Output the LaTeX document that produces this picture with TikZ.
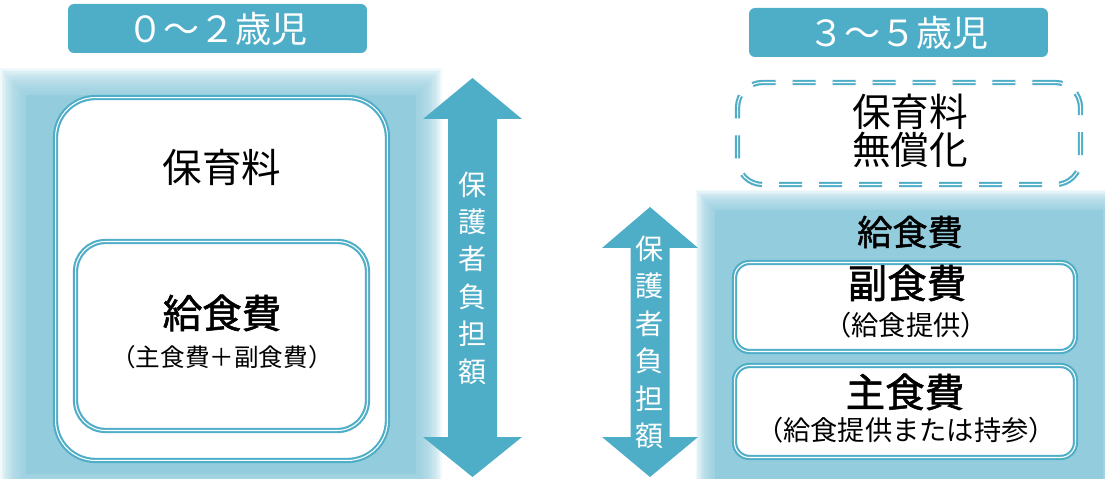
\documentclass[tikz,border=0pt]{standalone}
\usepackage{fontspec}
\setmainfont{Noto Sans CJK JP}
\newfontfamily\jpbold[FakeBold=1.4]{Noto Sans CJK JP}
\usepackage{tikz}
\usetikzlibrary{positioning}
\usepackage{xcolor}
\definecolor{titleblue}{HTML}{4EADC7}
\definecolor{glowblue}{HTML}{93CCDD}
\tikzstyle{agebox}=[rectangle, rounded corners=0.12cm, fill=titleblue, text=white, minimum width=5.98cm, minimum height=0.98cm, font=\fontsize{20.5}{21}\selectfont]
\tikzstyle{feebox}=[rectangle, fill=white, draw=titleblue, double=white, double distance=0.6pt, line width=1.2pt]
\tikzstyle{bigtxt}=[inner sep=0pt, font=\fontsize{22.5}{24}\selectfont]
\tikzstyle{boldtxt}=[inner sep=0pt, font=\fontsize{22.5}{24}\selectfont\jpbold]
\tikzstyle{subtxt}=[inner sep=0pt, font=\fontsize{15.5}{17}\selectfont]
\tikzstyle{vtxt}=[text=white, align=center, inner sep=0pt, font=\fontsize{16}{21.3}\selectfont]

\begin{document}
\begin{tikzpicture}[x=0.02cm, y=-0.02cm]
\useasboundingbox (0,0) rectangle (1105,479);

% glow
\foreach \k in {0,...,15}
  \fill[glowblue, opacity=0.12] ({0+1.6*\k},{68+1.7*\k}) rectangle ({442-1.6*\k},{500-1.6*\k});
\fill[glowblue] (26,95) rectangle (416,474);
\foreach \k in {0,...,15}
  \fill[glowblue, opacity=0.12] ({696+1.2*\k},{190+1.3*\k}) rectangle ({1122-1.2*\k},{500-1.2*\k});
\fill[glowblue] (715,210) rectangle (1103,481);

% ages
\node[agebox] (ageL) at (217.5,28.5) {０〜２歳児};
\node[agebox] (ageR) at (898.5,32.5) {３〜５歳児};

% 0-2
\node[feebox, rounded corners=0.8cm, minimum width=6.64cm, minimum height=7.26cm] (hoikuL) at (221.5,279) {};
\node[bigtxt] (feeL) at (222,167) {保育料};
\node[feebox, rounded corners=0.6cm, minimum width=5.84cm, minimum height=3.78cm] (lunchbox) at (221.5,336) {};
\node[boldtxt] (lunchL) at (222,313) {給食費};
\node[subtxt, font=\fontsize{14}{16}\selectfont] (lunchsub) at (222,357) {（主食費＋副食費）};

% arrows
\fill[titleblue] (472.5,78) -- (522,119) -- (497,119) -- (497,437) -- (522,437) -- (472.5,477)
  -- (423,437) -- (448,437) -- (448,119) -- (423,119) -- cycle;
\node[vtxt] (burdenL) at (472.5,278) {保\\護\\者\\負\\担\\額};
\fill[titleblue] (650,207) -- (698,248) -- (669.5,248) -- (669.5,437) -- (698,437) -- (650,477)
  -- (602,437) -- (630.5,437) -- (630.5,248) -- (602,248) -- cycle;
\node[vtxt] (burdenR) at (650,342.5) {保\\護\\者\\負\\担\\額};

% 3-5
\node[feebox, fill=none, dash pattern=on 0.46cm off 0.34cm, rounded corners=0.5cm, minimum width=6.86cm, minimum height=2.04cm] (freebox) at (909,133.5) {};
\node[bigtxt, align=center, font=\fontsize{22}{21.6}\selectfont] (freetxt) at (910,131) {保育料\\無償化};
\node[boldtxt, font=\fontsize{20}{22}\selectfont\jpbold] (lunchR) at (910,232) {給食費};
\node[feebox, rounded corners=0.3cm, minimum width=6.82cm, minimum height=1.78cm] (sidebox) at (905,307) {};
\node[boldtxt] (side) at (907,283) {副食費};
\node[subtxt] (sidesub) at (906,325) {（給食提供）};
\node[feebox, rounded corners=0.3cm, minimum width=6.82cm, minimum height=1.84cm] (staplebox) at (905,411.5) {};
\node[boldtxt] (staple) at (905,392) {主食費};
\node[subtxt] (staplesub) at (906,430) {（給食提供または持参）};

\end{tikzpicture}
\end{document}
